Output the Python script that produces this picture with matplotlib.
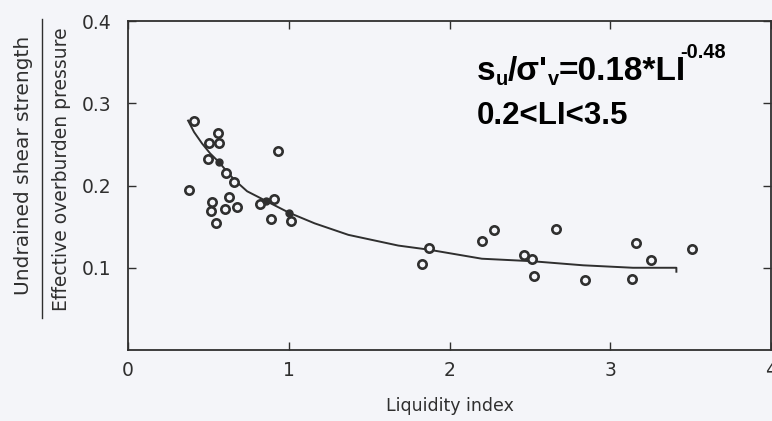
import matplotlib
matplotlib.use("Agg")
import matplotlib.pyplot as plt
from matplotlib.lines import Line2D

# ---- data ----
open_x = [0.41, 0.556, 0.567, 0.504, 0.494, 0.61, 0.66, 0.93, 0.38, 0.52, 0.514, 0.546,
          0.63, 0.60, 0.68, 0.82, 0.91, 0.89, 1.01,
          1.87, 1.83, 2.20, 2.275, 2.66, 2.46, 2.51, 2.525, 2.84, 3.135, 3.16, 3.25, 3.51]
open_y = [0.279, 0.264, 0.252, 0.252, 0.232, 0.215, 0.204, 0.242, 0.195, 0.180, 0.169, 0.155,
          0.186, 0.172, 0.174, 0.177, 0.183, 0.159, 0.157,
          0.124, 0.104, 0.132, 0.146, 0.147, 0.116, 0.111, 0.090, 0.085, 0.086, 0.130, 0.110, 0.123]
filled_x = [0.567, 0.86, 1.00]
filled_y = [0.228, 0.181, 0.167]

curve_x = [0.37, 0.41, 0.46, 0.51, 0.567, 0.61, 0.66, 0.74, 0.86, 1.00, 1.16, 1.37, 1.68, 1.87,
           2.20, 2.51, 2.83, 3.14, 3.41, 3.41]
curve_y = [0.280, 0.265, 0.251, 0.239, 0.228, 0.218, 0.207, 0.193, 0.181, 0.167, 0.154, 0.140,
           0.127, 0.122, 0.111, 0.108, 0.103, 0.100, 0.100, 0.094]

x_ticks = [0, 1, 2, 3, 4]
x_ticklabels = ["0", "1", "2", "3", "4"]
y_ticks = [0.1, 0.2, 0.3, 0.4]
y_ticklabels = ["0.1", "0.2", "0.3", "0.4"]

x_label = "Liquidity index"
y_label_top = "Undrained shear strength"
y_label_bottom = "Effective overburden pressure"
# equation pieces: (text, kind)
eq_pieces = [("s", "base"), ("u", "sub"), ("/σ'", "base"), ("v", "sub"),
             ("=0.18*LI", "base"), ("-0.48", "sup")]
eq_line2 = "0.2<LI<3.5"

BG = "#f4f5f9"
INK = "#2f2f2f"
W, H = 772, 421

fig = plt.figure(figsize=(7.72, 4.21), dpi=100, facecolor=BG)
ax = fig.add_axes([0.166, 0.1686, 0.833, 0.7815])
ax.set_facecolor(BG)

ax.plot(curve_x, curve_y, color=INK, lw=1.4, solid_capstyle="butt", zorder=2)
ax.plot(open_x, open_y, linestyle="none", marker="o", ms=6, mfc=BG, mec=INK, mew=1.9, zorder=3)
ax.plot(filled_x, filled_y, linestyle="none", marker="o", ms=5, mfc=INK, mec=INK, zorder=3)

ax.set_xlim(0, 4)
ax.set_ylim(0, 0.4)
ax.set_xticks(x_ticks)
ax.set_xticklabels(x_ticklabels)
ax.set_yticks(y_ticks)
ax.set_yticklabels(y_ticklabels)
ax.tick_params(direction="in", length=6, width=1.0, color=INK, labelcolor=INK,
               labelsize=13.5, top=True, right=True)
ax.tick_params(axis="x", pad=8)
ax.tick_params(axis="y", pad=12)
for s in ax.spines.values():
    s.set_color(INK)
    s.set_linewidth(1.3)

ax.set_xlabel(x_label, fontsize=12.5, color=INK, labelpad=12)

fig.text(0.031, 0.606, y_label_top, rotation=90, ha="center", va="center",
         fontsize=14.5, color=INK)
fig.text(0.080, 0.598, y_label_bottom, rotation=90, ha="center", va="center",
         fontsize=13.5, color=INK)
fig.add_artist(Line2D([0.0545, 0.0545], [0.245, 0.955], transform=fig.transFigure,
                      color=INK, lw=1.0))

# equation, line 1 built from pieces
renderer = fig.canvas.get_renderer()
base_fs = 24
k = 0.6
x_px = 477
base_y = 80
for txt, kind in eq_pieces:
    fs = base_fs if kind == "base" else base_fs * k
    dy = {"base": 0, "sub": -5, "sup": 22}[kind]
    if kind == "sup":
        x_px -= 6
    t = fig.text(x_px / W, (H - base_y + dy) / H, txt, fontsize=fs, color="black",
                 family="Liberation Sans", weight="bold", ha="left", va="baseline")
    x_px += t.get_window_extent(renderer).width

fig.text(477 / W, (H - 124) / H, eq_line2, fontsize=22.5, color="black", ha="left",
         va="baseline", family="Liberation Sans", weight="bold")

fig.savefig("out.png", dpi=100, facecolor=BG)
